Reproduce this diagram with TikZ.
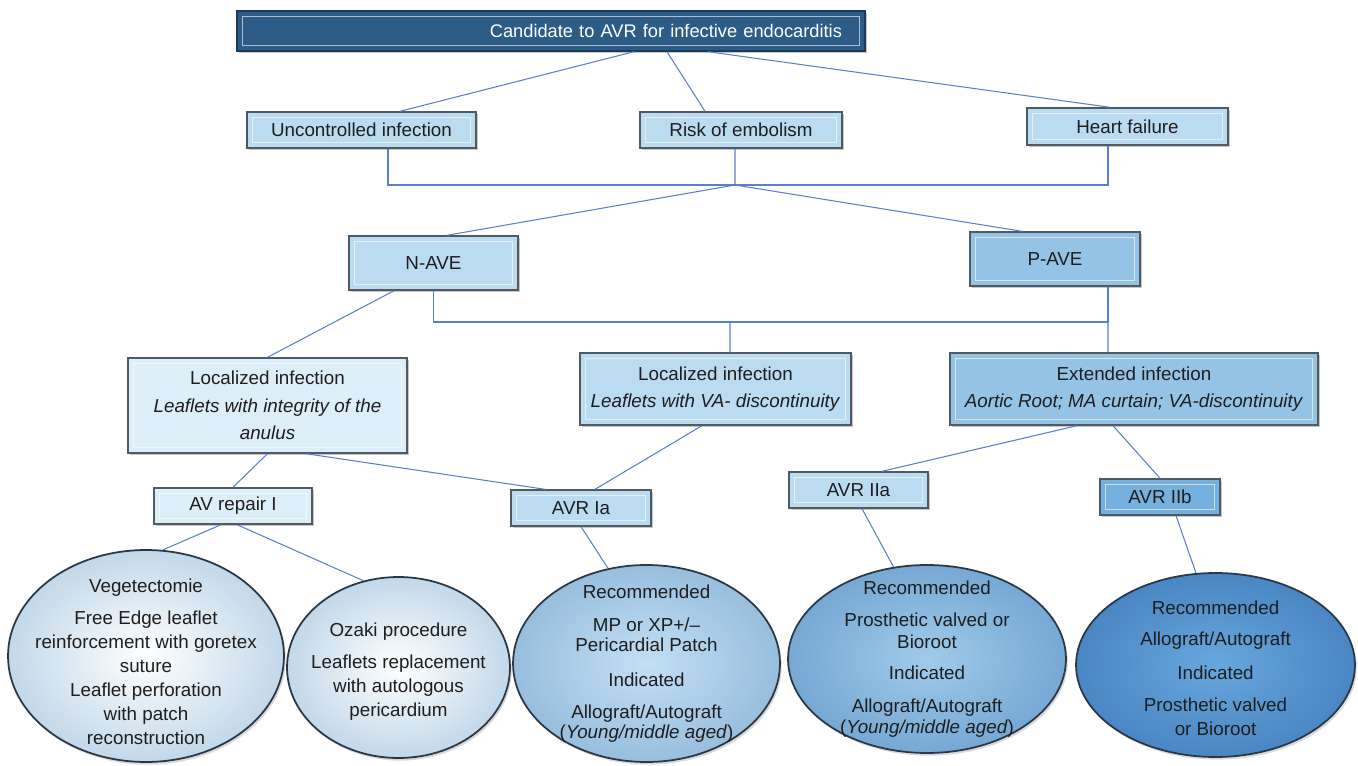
\documentclass[tikz,border=0pt]{standalone}
\usepackage{fontspec}
\setmainfont{Liberation Sans}
\usetikzlibrary{shapes.geometric,shadows}

\definecolor{titleblue}{HTML}{2D5C87}
\definecolor{titlerim}{HTML}{1B3B5A}
\definecolor{lineblue}{HTML}{5B7FCF}
\definecolor{paleblue}{HTML}{DCEEF8}
\definecolor{lightblue}{HTML}{BBDBF1}
\definecolor{midblue}{HTML}{95C3E6}
\definecolor{deepblue}{HTML}{76B0DE}
\definecolor{rimgray}{HTML}{4F5A64}
\definecolor{ovalrim}{HTML}{2A3846}
\definecolor{inkgray}{HTML}{1E1E1E}
\definecolor{paleedge}{HTML}{C2D8E9}
\definecolor{lightin}{HTML}{C3E0F4}
\definecolor{lightedge}{HTML}{98BEDD}
\definecolor{midin}{HTML}{A0CBEA}
\definecolor{midedge}{HTML}{76A8D4}
\definecolor{deepin}{HTML}{68A7DE}
\definecolor{deepedge}{HTML}{4A86C3}

\begin{document}
\begin{tikzpicture}[x=0.02cm,y=-0.02cm]
    \tikzstyle{box}=[rectangle, draw=rimgray, line width=0.8pt, inner sep=0pt, align=center,
        text=inkgray, font=\fontsize{10.7}{15.7}\selectfont,
        drop shadow={shadow xshift=1.2pt, shadow yshift=-1.2pt, opacity=0.45},
        path picture={\draw[white, opacity=0.6, line width=0.6pt]
            ([shift={(3pt,3pt)}]path picture bounding box.south west) rectangle
            ([shift={(-3pt,-3pt)}]path picture bounding box.north east);}]
    \tikzstyle{oval}=[ellipse, draw=ovalrim, line width=1pt, inner sep=0pt,
        drop shadow={shadow xshift=1pt, shadow yshift=-1.5pt, opacity=0.3}]
    \tikzstyle{ovaltext}=[align=center, text=inkgray, inner sep=0pt, font=\fontsize{10.7}{13.7}\selectfont]
    \tikzstyle{link}=[draw=lineblue, line width=0.6pt]

    \useasboundingbox (0,0) rectangle (1358,766);

    % top of the tree
    \node[box, fill=titleblue, draw=titlerim, text=white, minimum width=12.56cm, minimum height=0.8cm,
          text width=11.64cm, align=right, font=\fontsize{10.4}{13}\selectfont] (top) at (551,31)
          {Candidate to AVR for infective endocarditis};

    \node[box, fill=lightblue, minimum width=4.58cm, minimum height=0.72cm] (unc)   at (361.5,130)  {Uncontrolled infection};
    \node[box, fill=lightblue, minimum width=4.04cm, minimum height=0.72cm] (risk)  at (741,130)    {Risk of embolism};
    \node[box, fill=lightblue, minimum width=4.02cm, minimum height=0.74cm] (heart) at (1127.5,126.5) {Heart failure};

    \node[box, fill=lightblue, minimum width=3.38cm, minimum height=1.08cm] (nave) at (433.5,263) {N-AVE};
    \node[box, fill=midblue,   minimum width=3.4cm,  minimum height=1.08cm] (pave) at (1055,259)  {P-AVE};

    \node[box, fill=paleblue,  minimum width=5.58cm, minimum height=1.9cm]  (loc1) at (267.5,405.5)
          {Localized infection\\\textit{Leaflets with integrity of the}\\\textit{anulus}};
    \node[box, fill=lightblue, minimum width=5.42cm, minimum height=1.44cm] (loc2) at (715.5,389)
          {Localized infection\\\textit{Leaflets with VA- discontinuity}};
    \node[box, fill=midblue,   minimum width=7.36cm, minimum height=1.44cm] (ext)  at (1134,389)
          {Extended infection\\\textit{Aortic Root; MA curtain; VA-discontinuity}};

    \node[box, fill=paleblue,  minimum width=3.16cm, minimum height=0.72cm] (avr1)   at (233,506)    {AV repair I};
    \node[box, fill=lightblue, minimum width=2.8cm,  minimum height=0.72cm] (avria)  at (581,508)    {AVR Ia};
    \node[box, fill=lightblue, minimum width=2.78cm, minimum height=0.72cm] (avriia) at (858.5,490)  {AVR IIa};
    \node[box, fill=deepblue,  minimum width=2.4cm,  minimum height=0.72cm] (avriib) at (1160,497)   {AVR IIb};

    % ovals
    \node[oval, inner color=white, outer color=paleedge, minimum width=5.52cm, minimum height=4.24cm] (e1) at (146,656) {};
    \node[oval, inner color=white, outer color=paleedge, minimum width=4.46cm, minimum height=3.62cm] (e2) at (398.5,667.5) {};
    \node[oval, inner color=lightin, outer color=lightedge, minimum width=5.34cm, minimum height=3.94cm] (e3) at (646.5,663.5) {};
    \node[oval, inner color=midin, outer color=midedge, minimum width=5.56cm, minimum height=3.76cm] (e4) at (927,659) {};
    \node[oval, inner color=deepin, outer color=deepedge, minimum width=5.58cm, minimum height=3.68cm] (e5) at (1215.5,665) {};

    \node[ovaltext] (e1t) at ([yshift=-0.12cm]e1) {Vegetectomie\\[4.5pt]Free Edge leaflet\\reinforcement with goretex\\suture\\Leaflet perforation\\with patch\\reconstruction};
    \node[ovaltext] (e2t) at ([yshift=-0.08cm]e2) {Ozaki procedure\\[4.5pt]Leaflets replacement\\with autologous\\pericardium};
    \node[ovaltext] (e3t) at (e3) {Recommended\\[5pt]MP or XP+/–\\[-2.3pt]Pericardial Patch\\[6pt]Indicated\\[5pt]Allograft/Autograft\\[-2.8pt](\textit{Young/middle aged})};
    \node[ovaltext] (e4t) at (e4) {Recommended\\[4.5pt]Prosthetic valved or\\[-1.2pt]Bioroot\\[4pt]Indicated\\[5pt]Allograft/Autograft\\[-1.7pt](\textit{Young/middle aged})};
    \node[ovaltext] (e5t) at ([yshift=-0.06cm]e5) {Recommended\\[4pt]Allograft/Autograft\\[6pt]Indicated\\[4pt]Prosthetic valved\\or Bioroot};

    % connectors
    \draw[link] ([xshift=1.66cm]top.south) -- ([xshift=0.77cm]unc.north);
    \draw[link] ([xshift=2.32cm]top.south) -- ([xshift=-0.72cm]risk.north);
    \draw[link] ([xshift=3.14cm]top.south) -- ([xshift=-0.35cm]heart.north);

    \coordinate (j1) at (735,185);
    \draw[link] ([xshift=0.53cm]unc.south) |- (j1) -| ([xshift=-0.39cm]heart.south);
    \draw[link] ([xshift=-0.12cm]risk.south) -- (j1);
    \draw[link] (j1) -- ([xshift=0.27cm]nave.north);
    \draw[link] (j1) -- ([xshift=-0.66cm]pave.north);

    \coordinate (j2) at (730,322);
    \draw[link] (nave.south) |- (j2) -| ([xshift=1.06cm]pave.south);
    \draw[link] (j2) -- ([xshift=0.29cm]loc2.north);
    \draw[link] ([xshift=1.06cm]pave.south) -- ([xshift=-0.52cm]ext.north);

    \draw[link] ([xshift=-0.79cm]nave.south) -- (loc1.north);
    \draw[link] (loc1.south) -- (avr1.north);
    \draw[link] ([xshift=0.77cm]loc1.south) -- ([xshift=-0.72cm]avria.north);
    \draw[link] ([xshift=-0.27cm]loc2.south) -- ([xshift=0.28cm]avria.north);
    \draw[link] ([xshift=-1.14cm]ext.south) -- ([xshift=0.47cm]avriia.north);
    \draw[link] ([xshift=-0.42cm]ext.south) -- (avriib.north);

    \draw[link] ([xshift=-0.24cm]avr1.south) -- (e1.81);
    \draw[link] ([xshift=0.08cm]avr1.south) -- (e2.112);
    \draw[link] (avria.south) -- (e3.112);
    \draw[link] ([xshift=0.07cm]avriia.south) -- (e4.110);
    \draw[link] ([xshift=0.32cm]avriib.south) -- (e5.102);
\end{tikzpicture}
\end{document}
